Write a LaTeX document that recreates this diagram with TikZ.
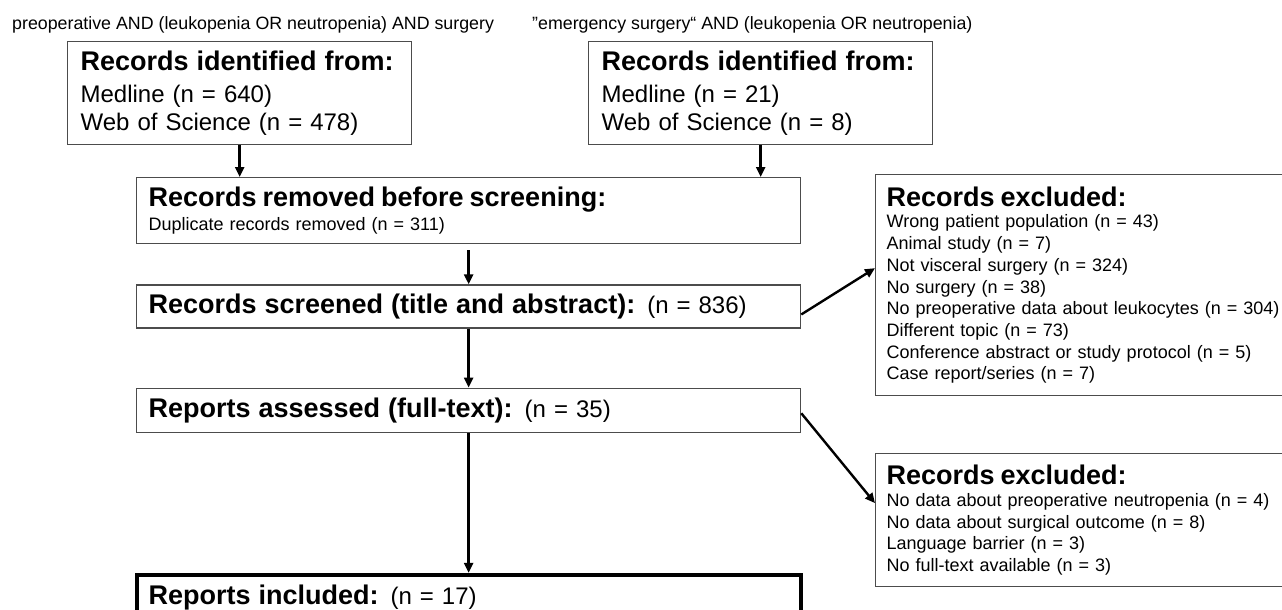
\documentclass[tikz,border=0pt]{standalone}
\usepackage{fontspec}
\setmainfont{Liberation Sans}
\usetikzlibrary{positioning}
\usetikzlibrary{arrows.meta}
\newcommand{\headtxt}{\fontsize{27}{32}\selectfont\bfseries}
\tikzset{recbox/.style={draw=black!70, line width=1.3pt, rectangle, anchor=north west,
align=left, inner xsep=12pt, inner ysep=0pt},
exclbox/.style={recbox, inner xsep=11pt, text width=430pt, font=\fontsize{18}{21.7}\selectfont},
flowarrow/.style={line width=2.4pt, -{Triangle[length=10pt,width=9pt]}}}

\begin{document}
\begin{tikzpicture}[x=1pt, y=-1pt, query/.style={anchor=west, inner sep=0pt, font=\fontsize{17.8}{20}\selectfont},
	chain/.style={recbox, text width=640pt, font=\fontsize{24}{28}\selectfont}]
	\useasboundingbox (0,0) rectangle (1282,610);
	\clip (0,0) rectangle (1282,610);
	\node[query] (q1) at (12,25) {preoperative AND (leukopenia OR neutropenia) AND surgery};
	\node[query] (q2) at (532,25) {”emergency surgery“ AND (leukopenia OR neutropenia)};
	\node[recbox, text width=318pt, inner xsep=13pt, minimum height=103pt, font=\fontsize{24}{28}\selectfont] (ident1) at (67,41)
		{{\headtxt Records identified from:}\\[4pt] Medline (n = 640)\\ Web of Science (n = 478)};
	\node[recbox, text width=318pt, inner xsep=13pt, minimum height=103pt, font=\fontsize{24}{28}\selectfont] (ident2) at (588,41)
		{{\headtxt Records identified from:}\\[4pt] Medline (n = 21)\\ Web of Science (n = 8)};
	\node[chain, minimum height=66pt, font=\fontsize{18}{24}\selectfont] (removed) at (136,177)
		{{\headtxt Records removed before screening:}\\ Duplicate records removed (n = 311)};
	\node[chain, minimum height=43pt, below=40pt of removed] (screened)
		{{\headtxt Records screened (title and abstract):} (n = 836)};
	\node[chain, minimum height=44pt, below=59pt of screened] (assessed)
		{{\headtxt Reports assessed (full-text):} (n = 35)};
	\node[chain, minimum height=46pt, draw=black, line width=4pt, below=140pt of assessed] (included)
		{{\headtxt Reports included:} (n = 17)};
	\node[exclbox, minimum height=221pt] (excl1) at (875,174)
		{{\headtxt Records excluded:}\\ Wrong patient population (n = 43)\\ Animal study (n = 7)\\
		Not visceral surgery (n = 324)\\ No surgery (n = 38)\\ No preoperative data about leukocytes (n = 304)\\
		Different topic (n = 73)\\ Conference abstract or study protocol (n = 5)\\ Case report/series (n = 7)};
	\node[exclbox, minimum height=133pt] (excl2) at (875,453)
		{{\headtxt Records excluded:}\\ No data about preoperative neutropenia (n = 4)\\
		No data about surgical outcome (n = 8)\\ Language barrier (n = 3)\\ No full-text available (n = 3)};
	\draw[flowarrow] (ident1.south) -- (ident1.south |- removed.north);
	\draw[flowarrow] (ident2.south) -- (ident2.south |- removed.north);
	\draw[flowarrow] ([yshift=-6pt]removed.south) -- (screened.north);
	\draw[flowarrow] (screened.south) -- (assessed.north);
	\draw[flowarrow] (assessed.south) -- (included.north);
	\draw[flowarrow] ([yshift=-8pt]screened.east) -- ([yshift=17pt]excl1.west);
	\draw[flowarrow] ([yshift=-3pt]assessed.east) -- ([yshift=17pt]excl2.west);
\end{tikzpicture}
\end{document}
